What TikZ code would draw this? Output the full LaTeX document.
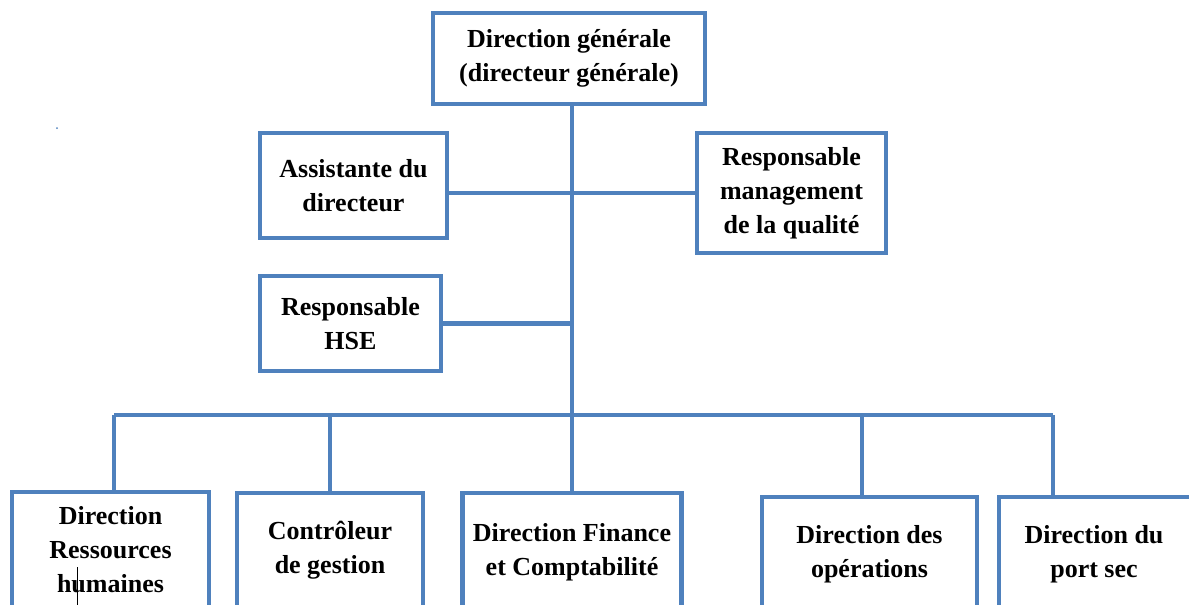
\documentclass[tikz,border=0pt]{standalone}
\usepackage{fontspec}
\setmainfont{Liberation Serif}
\definecolor{orgblue}{RGB}{79,129,189}
\tikzset{
  orgbox/.style={draw=orgblue, line width=4.5pt, fill=white, rectangle, align=center,
    font=\fontsize{26}{34}\selectfont\bfseries, inner sep=0pt},
  lbl/.style={align=center, font=\fontsize{26}{34}\selectfont\bfseries, inner sep=0pt},
  link/.style={draw=orgblue, line width=4.5pt}
}
\begin{document}
\begin{tikzpicture}[x=1pt,y=-1pt]
\useasboundingbox (0,0) rectangle (1189,605);
\clip (0,0) rectangle (1189,605);
% connectors (drawn first, boxes on top)
\coordinate (bus) at (572,415);
\coordinate (psdrop) at (1053,497);
\coordinate (rhdrop) at (114,492);
\coordinate (opsdrop) at (862,497);
% boxes
\node[orgbox, minimum width=272pt, minimum height=91pt] (top) at (569,58.5) {Direction générale\\(directeur générale)};
\node[orgbox, minimum width=187pt, minimum height=105pt] (assist) at (353.5,185.5) {Assistante du\\directeur};
\node[orgbox, minimum width=189pt, minimum height=120pt] (qual) at (791.5,193) {Responsable\\management\\de la qualité};
\node[orgbox, minimum width=181pt, minimum height=95pt] (hse) at (350.5,323.5) {Responsable\\HSE};
\node[orgbox, minimum width=197pt, minimum height=115pt] (rh) at (110.5,549.5) {Direction\\Ressources\\humaines};
\node[orgbox, minimum width=186pt, minimum height=115pt] (cg) at (330,550.5) {Contrôleur\\de gestion};
\node[orgbox, minimum width=219pt, minimum height=118pt] (fin) at (572,552) {Direction Finance\\et Comptabilité};
\node[orgbox, minimum width=215pt, minimum height=115pt] (ops) at (869.5,554.5) {Direction des\\opérations};
\node[orgbox, minimum width=230pt, minimum height=115pt] (ps) at (1114,554.5) {};
\node[lbl] (psT) at (1094,554.5) {Direction du\\port sec};
% links
\draw[link] (top.south -| fin.north) -- (fin.north);
\draw[link] (assist.east |- qual.west) -- (qual.west);
\draw[link] (hse.east) -- (hse.east -| fin.north);
\draw[link] (rhdrop |- bus) -- (psdrop |- bus);
\draw[link] (rhdrop |- bus) -- (rhdrop);
\draw[link] (cg.north |- bus) -- (cg.north);
\draw[link] (opsdrop |- bus) -- (opsdrop);
\draw[link] (psdrop |- bus) -- (psdrop);
% small artefacts
\coordinate (tickA) at (77,567);
\coordinate (tickB) at (77,605);
\draw[black, line width=1pt] (tickA) -- (tickB);
\fill[orgblue] (57,128) circle (1pt);
\end{tikzpicture}
\end{document}
